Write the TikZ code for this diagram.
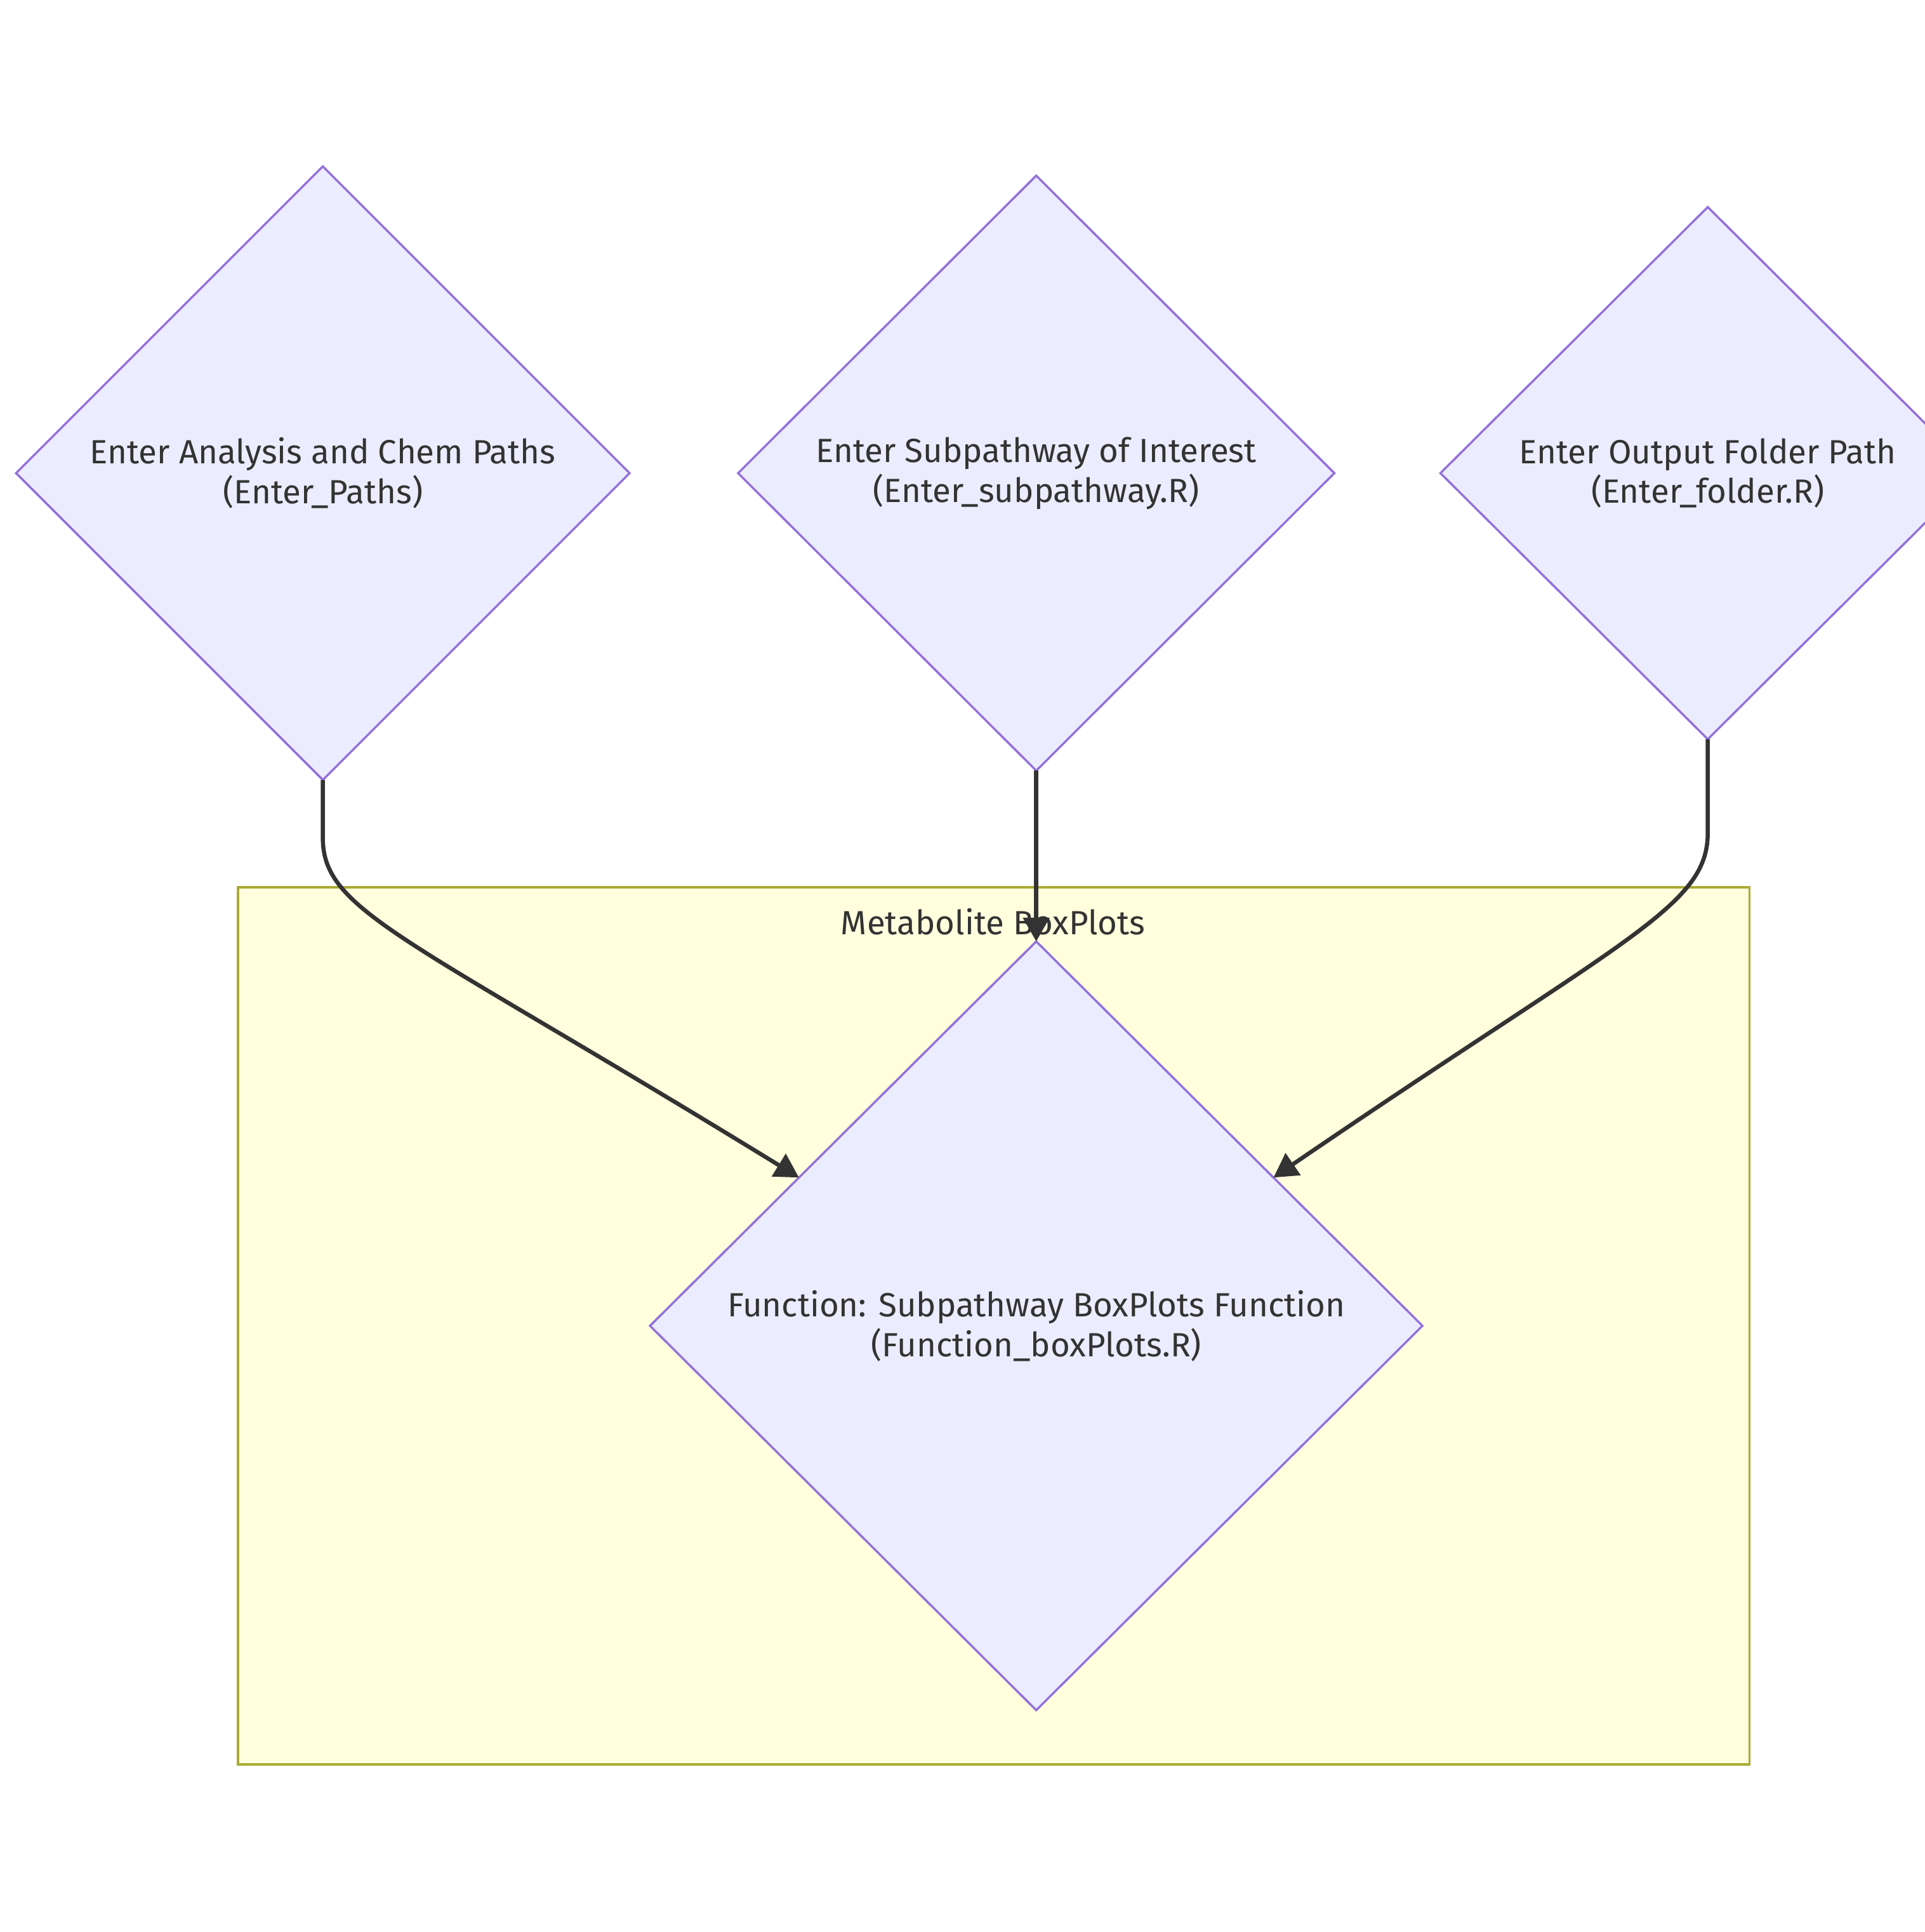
\documentclass[tikz,border=0pt]{standalone}
\usepackage{xcolor}
\usepackage{fontspec}
\setmainfont{Fira Sans}
\usepackage{tikz}
\usetikzlibrary{shapes.geometric,arrows.meta}

\definecolor{nodefill}{HTML}{ECECFF}
\definecolor{nodeline}{HTML}{9370DB}
\definecolor{grpfill}{HTML}{FFFFDE}
\definecolor{grpline}{HTML}{AAAA33}
\definecolor{txt}{HTML}{333333}

\begin{document}
\begin{tikzpicture}[x=0.02cm, y=-0.02cm,
                    font=\fontsize{15.5}{18.4}\selectfont, text=txt,
                    dia/.style n args={2}{diamond,draw=nodeline,fill=nodefill,
                    line width=1pt,
                    inner sep=0pt, outer sep=0pt,
                    minimum width=#1cm,
                    minimum height=#2cm,
                    align=center},
                    grp/.style n args={2}{rectangle,draw=grpline,fill=grpfill,
                    line width=1pt,
                    minimum width=#1cm,
                    minimum height=#2cm},
                    edge/.style={draw=txt,line width=1.9pt,
                    -{Triangle[length=11pt,width=12pt]}}]
    \useasboundingbox (0,0) rectangle (1562,1568);

    % subgraph
    \node[grp={24.54}{14.24}](boxplots) at (806.5,1076) {};
    \node(title) at (806,748) {Metabolite BoxPlots};

    % inputs
    \node[dia={9.96}{9.96}](paths) at (262,384) {Enter Analysis and Chem Paths\\(Enter\_Paths)};
    \node[dia={9.68}{9.66}](subpath) at (841,384) {Enter Subpathway of Interest\\(Enter\_subpathway.R)};
    \node[dia={8.68}{8.64}](folder) at (1386,384) {Enter Output Folder Path\\(Enter\_folder.R)};

    % function
    \node[dia={12.54}{12.48}](func) at (841,1076) {Function: Subpathway BoxPlots Function\\(Function\_boxPlots.R)};

    \draw[edge] (paths.south) -- (262,680) .. controls (262,740) and (330,760) .. (func.148);
    \draw[edge] (subpath.south) -- (func.north);
    \draw[edge] (folder.south) -- (1386,676) .. controls (1386,736) and (1320,760) .. (func.32);
\end{tikzpicture}
\end{document}
